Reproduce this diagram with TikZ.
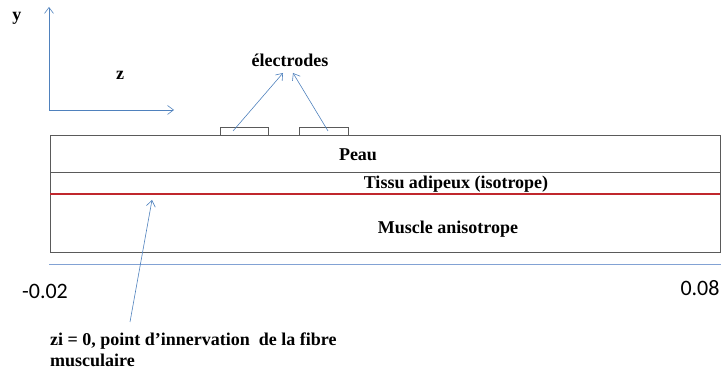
\documentclass[tikz,border=0pt]{standalone}
\usepackage{fontspec}
\setmainfont{Liberation Serif}
\newfontfamily\numfont{Carlito}
\usetikzlibrary{arrows.meta}
\definecolor{axisblue}{RGB}{79,129,189}
\definecolor{lineblue}{RGB}{130,162,212}
\definecolor{fibrered}{RGB}{192,39,45}
\definecolor{layergray}{RGB}{90,90,90}
\tikzset{
  lbl/.style={font=\fontsize{18}{21}\selectfont\bfseries, inner sep=0pt},
  numlbl/.style={font=\fontsize{22}{26}\selectfont\numfont, inner sep=0pt},
  ptr/.style={axisblue, line width=0.6pt, -{Straight Barb[length=6pt,width=9pt]}},
  layer/.style={layergray, line width=1pt}
}

\begin{document}
\begin{tikzpicture}[x=1pt,y=1pt]
\useasboundingbox (0,0) rectangle (723,372);
% axes
\coordinate (origin) at (49,262);
\coordinate (ytip) at (49,365);
\coordinate (ztip) at (174,262);
\draw[ptr] (origin) -- (ytip);
\draw[ptr] (origin) -- (ztip);
\node[lbl] (ylab) at (17,354) {y};
\node[lbl] (zlab) at (120,297) {z};
% layers
\draw[layer] (50,119) rectangle (720,236);
\draw[layer] (50,199) -- (720,199);
\draw[fibrered, line width=2.6pt] (50,178) -- (720,178);
\draw[lineblue, line width=1pt] (49,107) -- (721,107);
\node[lbl] (peau) at (358,217) {Peau};
\node[lbl] (tissu) at (456,188) {Tissu adipeux (isotrope)};
\node[lbl] (muscle) at (448,143) {Muscle anisotrope};
% electrodes
\draw[layer] (220,236) -- (220,244) -- (268,244) -- (268,236);
\draw[layer] (299,236) -- (299,244) -- (348,244) -- (348,236);
\coordinate (e1) at (233,241);
\coordinate (e2) at (328,241);
\node[lbl] (elab) at (290,312) {électrodes};
\coordinate (elabl) at (283,299);
\coordinate (elabr) at (293,299);
\draw[ptr] (e1) -- (elabl);
\draw[ptr] (e2) -- (elabr);
% innervation point
\coordinate (zifoot) at (130,50);
\coordinate (zihead) at (152,172);
\draw[ptr] (zifoot) -- (zihead);
\node[lbl, anchor=north west, align=left] (zilab) at (50,39)
  {zi = 0, point d’innervation\ \ de la fibre\\musculaire};
% bounds
\node[numlbl] (zmin) at (45,81) {-0.02};
\node[numlbl] (zmax) at (700,84) {0.08};
\end{tikzpicture}
\end{document}
